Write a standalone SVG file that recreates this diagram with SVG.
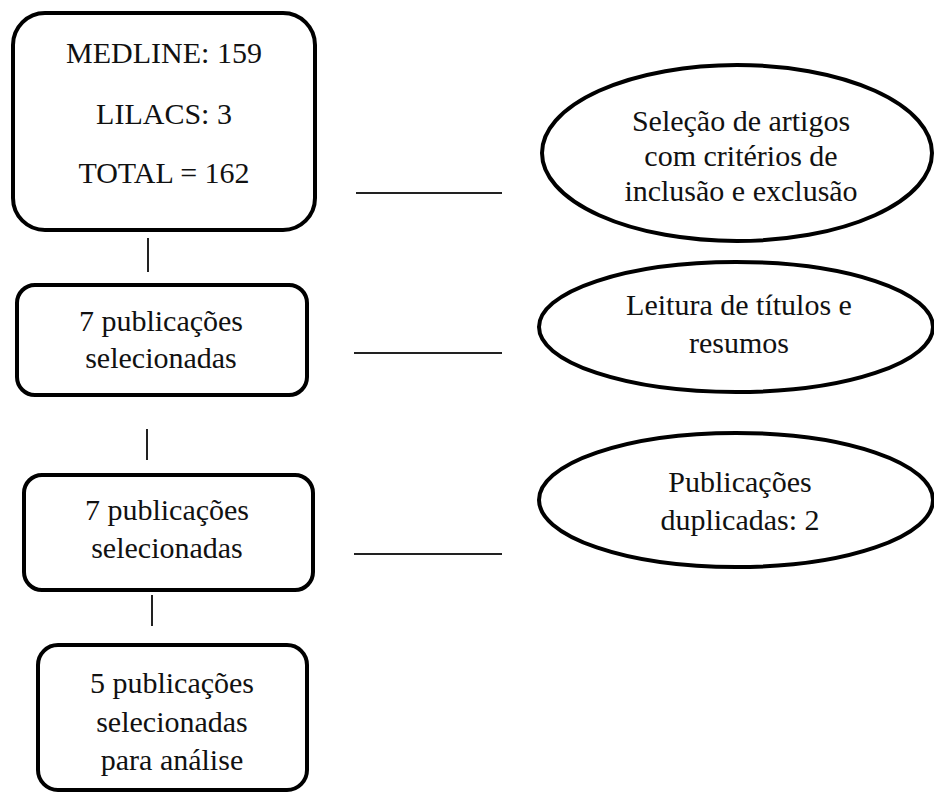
<svg xmlns="http://www.w3.org/2000/svg" width="934" height="792" viewBox="0 0 934 792">
<style>
.box{fill:#fff;stroke:#000;stroke-width:4}
.ell{fill:#fff;stroke:#000;stroke-width:4}
.ln{stroke:#222;stroke-width:2;fill:none}
.t{font-family:'Liberation Serif','DejaVu Serif',serif;font-size:30px;fill:#111;text-anchor:middle}
</style>
<rect width="934" height="792" fill="#fff"/>
<g id="connectors">
<line class="ln" x1="148" y1="238" x2="148" y2="272"/>
<line class="ln" x1="147" y1="429" x2="147" y2="460"/>
<line class="ln" x1="152" y1="595" x2="152" y2="626"/>
<line class="ln" x1="356" y1="193" x2="502" y2="193"/>
<line class="ln" x1="354" y1="353" x2="502" y2="353"/>
<line class="ln" x1="354" y1="554" x2="502" y2="554"/>
</g>
<g id="n_total" class="t" font-family="Liberation Serif, serif">
<rect class="box" x="13" y="13" width="302" height="217" rx="32"/>
<text x="164" y="63">MEDLINE: 159</text>
<text x="164" y="124">LILACS: 3</text>
<text x="164" y="183">TOTAL = 162</text>
</g>
<g id="n_sel1" class="t" font-family="Liberation Serif, serif">
<rect class="box" x="17" y="285" width="290" height="110" rx="18"/>
<text x="161" y="331">7 publicações</text>
<text x="161" y="368">selecionadas</text>
</g>
<g id="n_sel2" class="t" font-family="Liberation Serif, serif">
<rect class="box" x="24" y="475" width="289" height="115" rx="18"/>
<text x="167" y="520">7 publicações</text>
<text x="167" y="558">selecionadas</text>
</g>
<g id="n_final" class="t" font-family="Liberation Serif, serif">
<rect class="box" x="38" y="645" width="269" height="145" rx="20"/>
<text x="172" y="693">5 publicações</text>
<text x="172" y="732">selecionadas</text>
<text x="172" y="770">para análise</text>
</g>
<g id="e_criterios" class="t" font-family="Liberation Serif, serif">
<ellipse class="ell" cx="737" cy="153" rx="195" ry="88"/>
<text x="741" y="131">Seleção de artigos</text>
<text x="741" y="166">com critérios de</text>
<text x="741" y="201">inclusão e exclusão</text>
</g>
<g id="e_leitura" class="t" font-family="Liberation Serif, serif">
<ellipse class="ell" cx="736" cy="327" rx="197" ry="65"/>
<text x="739" y="315">Leitura de títulos e</text>
<text x="739" y="353">resumos</text>
</g>
<g id="e_duplicadas" class="t" font-family="Liberation Serif, serif">
<ellipse class="ell" cx="736" cy="500" rx="197" ry="67"/>
<text x="740" y="492">Publicações</text>
<text x="740" y="530">duplicadas: 2</text>
</g>
</svg>
